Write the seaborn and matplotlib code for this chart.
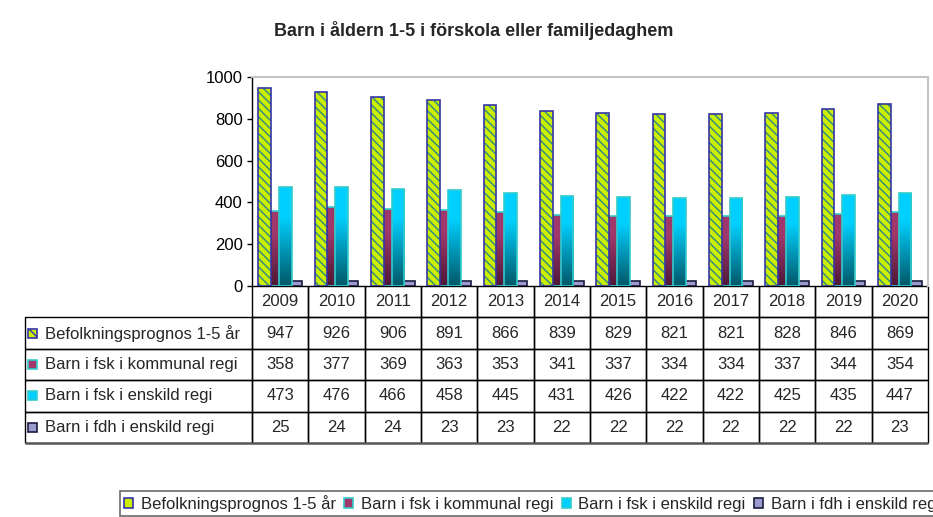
#!/usr/bin/python3
"""Barn i åldern 1-5, stapeldiagram med datatabell"""
import numpy as np
import pandas as pd
import matplotlib
matplotlib.use("Agg")
import matplotlib.pyplot as plt
from matplotlib.patches import Rectangle, Patch
import seaborn as sns

# data from the chart table
years = [2009, 2010, 2011, 2012, 2013, 2014, 2015, 2016, 2017, 2018, 2019, 2020]
befolkning = [947, 926, 906, 891, 866, 839, 829, 821, 821, 828, 846, 869]
fsk_kommunal = [358, 377, 369, 363, 353, 341, 337, 334, 334, 337, 344, 354]
fsk_enskild = [473, 476, 466, 458, 445, 431, 426, 422, 422, 425, 435, 447]
fdh_enskild = [25, 24, 24, 23, 23, 22, 22, 22, 22, 22, 22, 23]
series_names = ["Befolkningsprognos 1-5 år", "Barn i fsk i kommunal regi",
                "Barn i fsk i enskild regi", "Barn i fdh i enskild regi"]
series_values = [befolkning, fsk_kommunal, fsk_enskild, fdh_enskild]
title = "Barn i åldern 1-5 i förskola eller familjedaghem"

rows = []
for name, vals in zip(series_names, series_values):
    for y, v in zip(years, vals):
        rows.append({"year": str(y), "serie": name, "value": v})
df = pd.DataFrame(rows)

sns.set_theme(style="white")
plt.rcParams['font.family'] = ['Liberation Sans', 'DejaVu Sans']
plt.rcParams['hatch.linewidth'] = 1.0

# colours: fill, edge, gradient top/bottom
green_face = "#ccee00"
green_hatch = "#2a8888"
green_edge = "#3535a8"
maroon_top, maroon_bot = "#a0386c", "#4e1836"
cyan_top, cyan_bot = "#00d0ff", "#005868"
cyan_edge = "#33cccc"
purple_face, purple_edge = "#9a9acc", "#1a1a40"
pal = [green_face, maroon_top, cyan_top, purple_face]

W, H = 933, 517
fig = plt.figure(figsize=(W / 100, H / 100), dpi=100)
fig.patch.set_facecolor("white")
ax = fig.add_axes([252 / W, 1 - 286 / H, 676 / W, 209 / H])

sns.barplot(data=df, x="year", y="value", hue="serie", hue_order=series_names,
            palette=pal, width=0.733, saturation=1, legend=False, ax=ax)


def grad_img(top, bot):
    t = np.linspace(0, 1, 100)
    t = np.clip((t - 0.3) / 0.7, 0, 1)
    c0 = np.array(matplotlib.colors.to_rgb(top))
    c1 = np.array(matplotlib.colors.to_rgb(bot))
    return (c0[None, :] * (1 - t[:, None]) + c1[None, :] * t[:, None])[:, None, :]


bar_w = 0.225
zorders = [5, 3, 4, 2]
for k, cont in enumerate(ax.containers):
    z = zorders[k]
    for p in cont.patches:
        cx = p.get_x() + p.get_width() / 2
        p.set_width(bar_w)
        p.set_x(cx - bar_w / 2)
        p.set_zorder(z)
        x0, h = p.get_x(), p.get_height()
        if k == 0:
            p.set_facecolor(green_face)
            p.set_edgecolor(green_hatch)  # sets hatch colour
            p.set_hatch("\\\\\\\\")
            p.set_linewidth(0)
            edge = green_edge
        elif k in (1, 2):
            top, bot = (maroon_top, maroon_bot) if k == 1 else (cyan_top, cyan_bot)
            p.set_facecolor(bot)
            p.set_linewidth(0)
            im = ax.imshow(grad_img(top, bot), extent=[x0, x0 + bar_w, 0, h],
                           aspect="auto", origin="upper", zorder=z + 0.1)
            im.set_clip_path(p)
            edge = cyan_edge
        else:
            p.set_facecolor(purple_face)
            p.set_linewidth(0)
            edge = purple_edge
        ax.add_patch(Rectangle((x0, 0), bar_w, h, fill=False, edgecolor=edge,
                               linewidth=1.2, zorder=z + 0.2))

ax.set_xlim(-0.5, len(years) - 0.5)
ax.set_ylim(0, 1000)
ax.set_yticks(range(0, 1001, 200))
ax.set_xlabel("")
ax.set_ylabel("")
ax.tick_params(axis="x", bottom=False, labelbottom=False)
ax.tick_params(axis="y", left=True, length=3.6, width=1, color="black",
               direction="out", labelsize=12, pad=3, labelcolor="black")
ax.set_facecolor("white")
ax.spines["left"].set_color("black")
ax.spines["left"].set_linewidth(1)
ax.spines["bottom"].set_visible(False)
for s in ["top", "right"]:
    ax.spines[s].set_color("#c4c4c4")
    ax.spines[s].set_linewidth(1.5)

# data table under the plot, first column holds the series names
lab_w = 227 / (676 / 12)
cell_text = [[name] + [str(v) for v in vals]
             for name, vals in zip(series_names, series_values)]
tab = ax.table(cellText=cell_text, colLabels=[""] + [str(y) for y in years],
               cellLoc="center", colLoc="center",
               colWidths=[lab_w] + [1] * len(years),
               bbox=[-227 / 676, -157 / 209, 903 / 676, 157 / 209])
tab.auto_set_font_size(False)
tab.set_fontsize(12)
for (r, c), cell in tab.get_celld().items():
    cell.set_edgecolor("black")
    cell.set_linewidth(1)
    cell.set_facecolor("none")
    if r == 4:
        cell.visible_edges = "LRT"
    if c == 0:
        if r == 0:
            cell.set_visible(False)
        cell.get_text().set_ha("left")
        cell.PAD = 0.088
# heavier grey line under the table
ax.plot([-227 / 676, 1], [-157 / 209, -157 / 209], transform=ax.transAxes,
        color="#555555", linewidth=1.8, clip_on=False, solid_capstyle="butt")

# small colour keys in the row label cells
row_h = 157 / 209 / 5
key_w, key_h = 9 / 676, 9 / 209
key_x = -227 / 676 + 3 / 676
key_style = [
    dict(facecolor=green_face, edgecolor=green_edge, hatch="\\\\"),
    dict(facecolor=maroon_top, edgecolor=cyan_edge),
    dict(facecolor=cyan_top, edgecolor=cyan_edge),
    dict(facecolor=purple_face, edgecolor=purple_edge),
]
for i, st in enumerate(key_style):
    yc = -(i + 1.5) * row_h
    ax.add_patch(Rectangle((key_x, yc - key_h / 2), key_w, key_h, linewidth=1.2,
                           transform=ax.transAxes, clip_on=False, **st))

fig.text(474 / W, 1 - 31 / H, title, ha="center", va="center",
         fontsize=13, fontweight="bold")

handles = [Patch(linewidth=1.2, **st) for st in key_style]
leg = fig.legend(handles, series_names, ncol=4, loc="upper left",
                 bbox_to_anchor=(120 / W, 1 - 491 / H), frameon=True,
                 fancybox=False, edgecolor="#444444", fontsize=12,
                 handlelength=0.55, handleheight=0.55, handletextpad=0.45,
                 columnspacing=0.5, borderpad=0.25, borderaxespad=0)
leg.get_frame().set_linewidth(1.2)

fig.savefig("out.png", dpi=100)
